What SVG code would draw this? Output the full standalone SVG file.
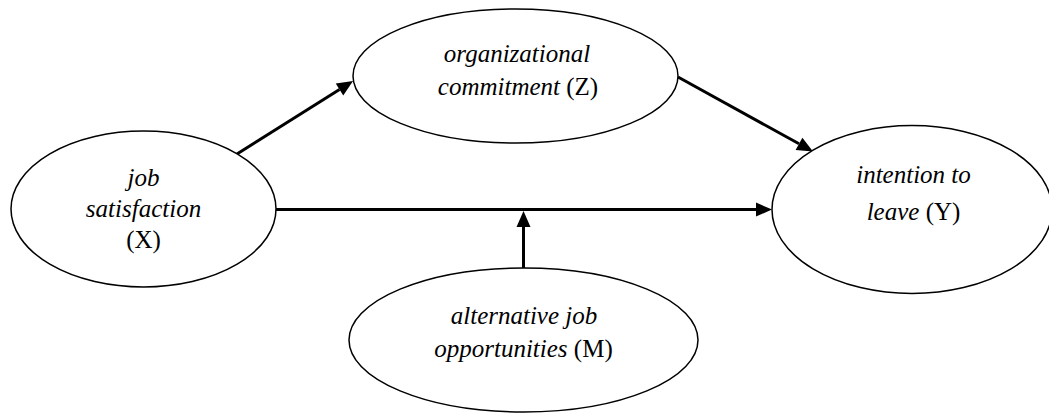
<svg xmlns="http://www.w3.org/2000/svg" width="1049" height="414" viewBox="0 0 1049 414">
  <style>
    .node ellipse { fill: #ffffff; stroke: #000000; stroke-width: 1.5; }
    .node text { font-family: "Liberation Serif", "Times New Roman", serif; font-size: 25px; fill: #000000; text-anchor: middle; }
    .node .it { font-style: italic; }
    .edge { stroke: #000000; stroke-width: 3; fill: none; marker-end: url(#head); }
  </style>
  <defs>
    <marker id="head" markerUnits="userSpaceOnUse" markerWidth="16" markerHeight="14" refX="0" refY="7" orient="auto" overflow="visible">
      <path d="M0,0 L16,7 L0,14 Z" fill="#000000"/>
    </marker>
  </defs>
  <rect width="1049" height="414" fill="#ffffff"/>

  <!-- connectors: each line stops at the base of its arrowhead -->
  <g id="connectors">
    <line class="edge" x1="237" y1="154" x2="339.5" y2="89.5"/>
    <line class="edge" x1="678" y1="77" x2="799" y2="143.8"/>
    <line class="edge" x1="276" y1="209.5" x2="756" y2="209.5"/>
    <line class="edge" x1="523.5" y1="268" x2="523.5" y2="227"/>
  </g>

  <g id="node-x" class="node">
    <ellipse cx="143.5" cy="209" rx="132.5" ry="78"/>
    <text x="143.5" y="185.5" class="it">job</text>
    <text x="143.5" y="216.5" class="it">satisfaction</text>
    <text x="143.5" y="247.5">(X)</text>
  </g>

  <g id="node-z" class="node">
    <ellipse cx="515.5" cy="76" rx="162.5" ry="67"/>
    <text x="517" y="61.5" class="it">organizational</text>
    <text x="518" y="95"><tspan class="it">commitment</tspan> (Z)</text>
  </g>

  <g id="node-y" class="node">
    <ellipse cx="912" cy="209.5" rx="140" ry="84"/>
    <text x="913.5" y="183" class="it">intention to</text>
    <text x="913.5" y="219.5"><tspan class="it">leave</tspan> (Y)</text>
  </g>

  <g id="node-m" class="node">
    <ellipse cx="523.5" cy="340" rx="174.5" ry="72"/>
    <text x="524" y="323.5" class="it">alternative job</text>
    <text x="523.5" y="357"><tspan class="it">opportunities</tspan> (M)</text>
  </g>
</svg>
